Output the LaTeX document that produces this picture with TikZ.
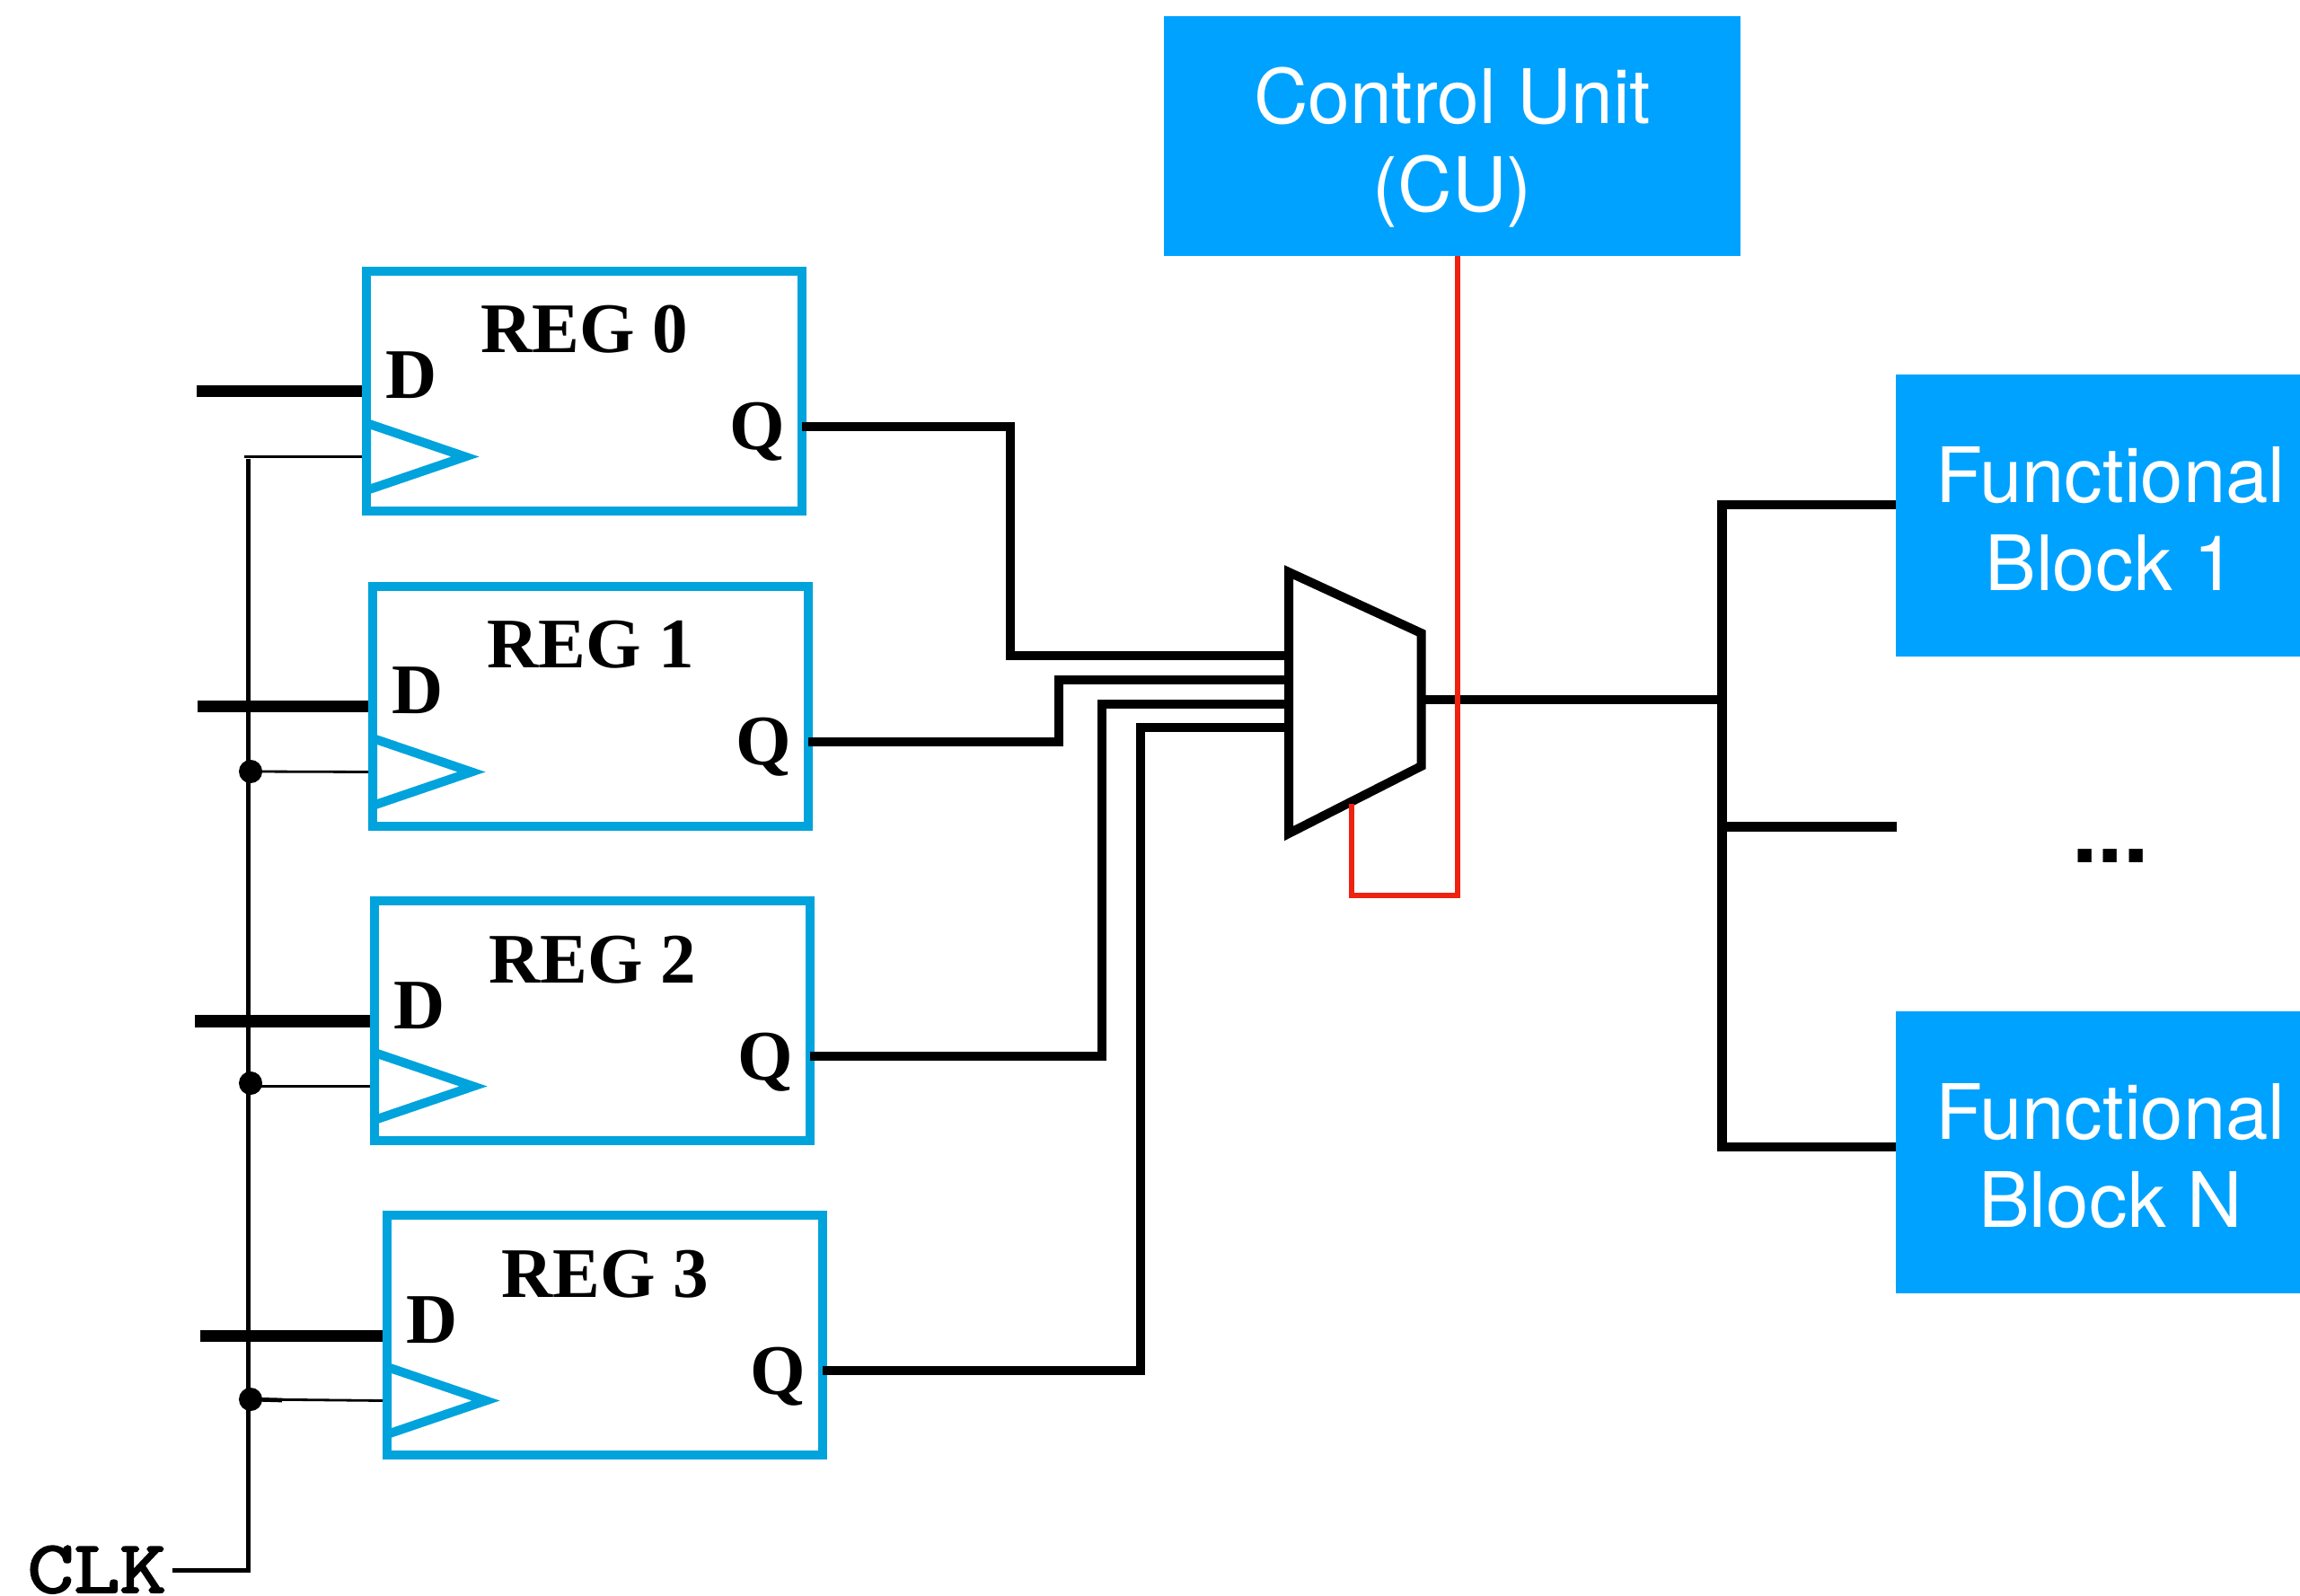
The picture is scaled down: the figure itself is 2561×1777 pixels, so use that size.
\documentclass[tikz,border=0pt]{standalone}
\usepackage{fontspec}
\setmainfont{Liberation Serif}
\newfontfamily\boxfont{TeX Gyre Heros}
\newfontfamily\clkfont[FakeBold=2.5]{Latin Modern Mono}
\definecolor{regblue}{RGB}{0,163,220}
\definecolor{boxblue}{RGB}{0,162,255}
\definecolor{ctrlred}{RGB}{238,34,17}
\tikzset{
  regbox/.style={draw=regblue,line width=0.1cm,minimum width=4.85cm,minimum height=2.67cm,inner sep=0pt,outer sep=0pt,anchor=north west},
  regtext/.style={font=\fontsize{22.5}{27}\selectfont\bfseries,inner sep=0pt,outer sep=0pt},
  clktri/.style={draw=regblue,line width=0.1cm,line join=miter},
  funcbox/.style={fill=boxblue,inner sep=0pt,outer sep=0pt},
  functext/.style={text=white,align=center,inner sep=0pt,outer sep=0pt,font=\boxfont\fontsize{24.2}{28}\selectfont},
  wire/.style={line width=0.1cm,line join=miter},
  buswire/.style={line width=0.108cm,line join=miter},
  dwire/.style={line width=0.13cm},
  clkwire/.style={line width=0.05cm,line join=miter},
  thinwire/.style={line width=0.028cm},
  ctrlwire/.style={draw=ctrlred,line width=0.052cm,line join=miter},
  jdot/.style={circle,fill=black,inner sep=0pt,outer sep=0pt,minimum size=0.26cm},
}
\begin{document}
\begin{tikzpicture}[x=0.01cm,y=-0.01cm]
\useasboundingbox (0,0) rectangle (2561,1777);

% clock trunk, below everything else
\coordinate (clktop) at (276.8,511);
\coordinate (clkcorner) at (276.8,1748);
\coordinate (clkw) at (192,1748);
\draw[clkwire] (clktop) -- (clkcorner) -- (clkw);
\node[anchor=base west,inner sep=0pt,font=\clkfont\fontsize{28.4}{30}\selectfont] (clk) at (30,1773) {\scalebox{1}[0.83]{CLK}};

% registers
\foreach \i/\x/\y/\dx in {0/408/302/219, 1/415/653/220, 2/417/1003/217, 3/431/1353/223}{
  \node[regbox] (reg\i) at (\x,\y) {};
  \coordinate (din\i) at (\dx,\y+134);
  \coordinate (dend\i) at (\x-5,\y+134);
  \draw[dwire] (din\i) -- (dend\i);
  \draw[clktri] (\x,\y+169) -- (\x+110,\y+206.5) -- (\x,\y+244) -- cycle;
  \coordinate (clkin\i) at (\x-5,\y+206.5);
  \coordinate (q\i) at (\x+485,\y+173);
  \node[regtext,anchor=base] (name\i) at (\x+243,\y+91) {REG \i};
  \node[regtext,anchor=base west] (dl\i) at (\x+21,\y+142) {D};
  \node[regtext,anchor=base west] (ql\i) at (\x+404,\y+199) {Q};
}

% clock branches
\coordinate (clkstub0) at (272,508.5);
\draw[thinwire] (clkstub0) -- (clkin0);
\node[jdot] (dot1) at (279,859) {};
\node[jdot] (dot2) at (279,1206) {};
\node[jdot] (dot3) at (279,1558) {};
\draw[thinwire] (dot1.center) -- (clkin1);
\draw[thinwire] (279,1209.5) -- (clkin2);
\draw[thinwire] (dot3.center) -- (clkin3);
\coordinate (stub3) at (314,1559);
\draw[line width=0.047cm] (dot3.center) -- (stub3);

% mux
\coordinate (mtl) at (1435,637);
\coordinate (mtr) at (1582.6,705);
\coordinate (mbr) at (1582.6,853);
\coordinate (mbl) at (1435,928);
\coordinate (muxin0) at (1435,730);
\coordinate (muxin1) at (1435,757);
\coordinate (muxin2) at (1435,783.7);
\coordinate (muxin3) at (1435,810);
\coordinate (muxout) at (1582.6,779);
\coordinate (muxsel) at (1505,895);

% register outputs to the mux
\draw[wire] (q0) -- (1125,475) -- (1125,730) -- (muxin0);
\draw[wire] (q1) -- (1178.5,826) -- (1178.5,757) -- (muxin1);
\draw[wire] (q2) -- (1226.7,1176) -- (1226.7,783.7) -- (muxin2);
\draw[wire] (q3) -- (1270,1526) -- (1270,810) -- (muxin3);
\draw[wire] (mtl) -- (mtr) -- (mbr) -- (mbl) -- cycle;

% function blocks
\node[funcbox,minimum width=6.42cm,minimum height=2.67cm] (cu) at (1617,151.5) {};
\node[functext,font=\boxfont\fontsize{23.85}{28}\selectfont] (cut) at (1617,164) {Control Unit\\(CU)};
\node[funcbox,minimum width=4.5cm,minimum height=3.14cm] (fb1) at (2336,574) {};
\node[funcbox,minimum width=4.5cm,minimum height=3.14cm] (fbn) at (2336,1283) {};
\node[functext] (fb1t) at (2350,578) {Functional\\Block 1};
\node[functext] (fbnt) at (2350,1287) {Functional\\Block N};
\node[anchor=base,inner sep=0pt,font=\boxfont\bfseries\fontsize{29}{34}\selectfont] (more) at (2350,961) {...};

% output bus
\coordinate (bustop) at (1917.8,562);
\coordinate (busmid) at (1917.8,779);
\coordinate (busfork) at (1917.8,920.5);
\coordinate (busbot) at (1917.8,1277);
\coordinate (midend) at (2112,920.5);
\draw[buswire] (muxout) -- (busmid);
\draw[buswire] (fb1.west |- bustop) -- (bustop) -- (busbot) -- (fbn.west |- busbot);
\draw[buswire] (busfork) -- (midend);

% control line
\coordinate (redc) at (1623,997);
\coordinate (redl) at (1505,997);
\draw[ctrlwire] (redc |- cu.south) -- (redc) -- (redl) -- (muxsel);
\end{tikzpicture}
\end{document}
